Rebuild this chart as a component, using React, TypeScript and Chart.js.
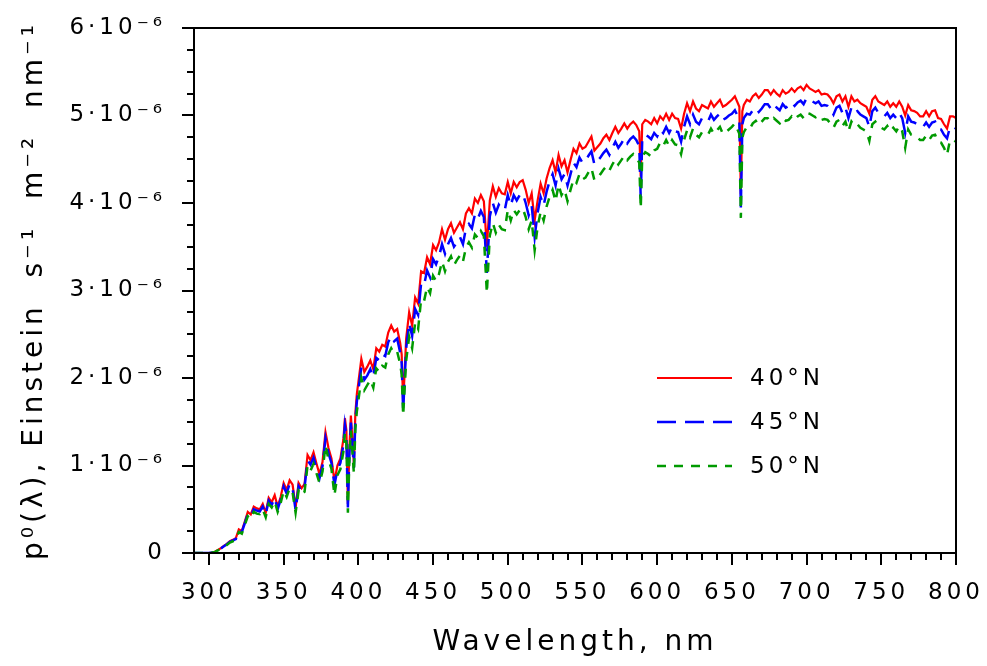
import { useEffect, useRef } from 'react';
import { Chart, registerables } from 'chart.js';

Chart.register(...registerables);

// Wavelength grid, nm
const WAVELENGTHS = [
  290, 292, 294, 296, 298, 300,
  302, 304, 306, 308, 310, 312, 314, 316, 318, 320,
  322, 324, 326, 328, 330, 332, 334, 336, 338, 340,
  342, 344, 346, 348, 350, 352, 354, 356, 358, 360,
  362, 364, 366, 368, 370, 372, 374, 376, 378, 380,
  382, 384, 386, 388,
  390, 391, 392, 393, 394, 395, 396, 397, 398, 399,
  400, 402, 404, 406, 408, 410, 412, 414, 416, 418, 420, 422, 424, 426, 428,
  429, 430,
  432, 434, 436, 438, 440, 442, 444, 446, 448, 450,
  452, 454, 456, 458, 460, 462, 464, 466, 468, 470,
  472, 474, 476, 478, 480, 482, 484, 486, 488, 490,
  492, 494, 496, 498,
  500, 502, 504, 506, 508, 510, 512, 514, 516, 518,
  520, 522, 524, 526, 528, 530, 532, 534, 536, 538,
  540, 542, 544, 546, 548, 550, 552, 554, 556, 558,
  560, 562, 564, 566, 568, 570, 572, 574, 576, 578,
  580, 582, 584, 586, 588,
  589,
  590, 592, 594, 596, 598,
  600, 602, 604, 606, 608, 610, 612, 614, 616, 618,
  620, 622, 624, 626, 628, 630, 632, 634, 636, 638,
  640, 642, 644, 646, 648, 650, 652, 654,
  655, 656, 657,
  658,
  660, 662, 664, 666, 668, 670, 672, 674, 676, 678,
  680, 682, 684, 686, 688, 690, 692, 694, 696, 698,
  700, 702, 704, 706, 708, 710, 712, 714, 716, 718,
  720, 722, 724, 726, 728, 730, 732, 734, 736, 738,
  740, 742, 744, 746, 748, 750, 752, 754, 756, 758,
  760, 762, 764, 766, 768, 770, 772, 774, 776, 778,
  780, 782, 784, 786, 788, 790, 792, 794, 796, 798,
  800,
];

// p0(lambda) in units of 1e-6 Einstein s^-1 m^-2 nm^-1
const LAT40 = [
  0, 0, 0, 0, 0, 0,
  0.005, 0.015, 0.035, 0.055, 0.08, 0.105, 0.135, 0.15, 0.17, 0.27,
  0.25, 0.36, 0.47, 0.44, 0.53, 0.51, 0.50, 0.56, 0.46, 0.63,
  0.58, 0.66, 0.53, 0.64, 0.80, 0.72, 0.83, 0.78, 0.52, 0.80,
  0.74, 0.79, 1.12, 1.06, 1.15, 1.02, 0.90, 1.04, 1.38, 1.20,
  1.08, 0.82, 1.00, 1.08,
  1.30, 1.54, 1.40, 0.56, 1.20, 1.57, 1.30, 1.02, 1.60, 1.82,
  1.95, 2.22, 2.07, 2.13, 2.20, 2.10, 2.34, 2.30, 2.38, 2.36, 2.52, 2.60, 2.53, 2.56, 2.40,
  2.27, 1.70,
  2.45, 2.75, 2.60, 2.92, 2.85, 3.22, 3.20, 3.38, 3.30, 3.52,
  3.46, 3.55, 3.70, 3.58, 3.70, 3.77, 3.66, 3.72, 3.78, 3.70,
  3.88, 3.94, 3.88, 4.05, 4.00, 4.09, 4.02, 3.50, 4.03, 4.19,
  4.07, 4.17, 4.11, 4.10,
  4.24, 4.11, 4.24, 4.18, 4.24, 4.26, 4.15, 4.00, 4.11, 3.80,
  4.03, 4.22, 4.11, 4.28, 4.40, 4.49, 4.35, 4.55, 4.42, 4.49,
  4.35, 4.49, 4.62, 4.57, 4.68, 4.62, 4.64, 4.70, 4.76, 4.60,
  4.64, 4.68, 4.74, 4.78, 4.72, 4.80, 4.87, 4.80, 4.85, 4.91,
  4.85, 4.90, 4.93, 4.89, 4.82,
  4.30,
  4.90, 4.95, 4.93, 4.90, 4.97,
  4.91, 4.99, 4.95, 5.02, 4.95, 5.02, 4.97, 4.96, 4.85, 5.02,
  5.14, 5.05, 5.16, 5.08, 5.05, 5.12, 5.10, 5.08, 5.16, 5.10,
  5.14, 5.18, 5.10, 5.12, 5.15, 5.18, 5.22, 5.14,
  5.10, 4.10, 5.05,
  5.12,
  5.18, 5.16, 5.22, 5.25, 5.20, 5.24, 5.29, 5.29, 5.24, 5.29,
  5.25, 5.22, 5.29, 5.25, 5.27, 5.31, 5.27, 5.31, 5.33, 5.29,
  5.35, 5.31, 5.29, 5.27, 5.29, 5.24, 5.25, 5.24, 5.20, 5.14,
  5.22, 5.24, 5.16, 5.22, 5.10, 5.22, 5.16, 5.18, 5.14, 5.12,
  5.10, 5.02, 5.18, 5.22, 5.16, 5.14, 5.12, 5.16, 5.10, 5.14,
  5.10, 5.16, 5.10, 5.00, 5.12, 5.06, 5.05, 5.03, 4.99, 4.99,
  5.05, 4.99, 5.05, 5.06, 4.97, 4.96, 4.90, 4.85, 4.99, 4.99,
  4.97,
];

const LAT45 = [
  0, 0, 0, 0, 0, 0,
  0.005, 0.014, 0.033, 0.052, 0.076, 0.10, 0.128, 0.143, 0.16, 0.255,
  0.24, 0.34, 0.445, 0.42, 0.50, 0.485, 0.475, 0.53, 0.44, 0.60,
  0.55, 0.63, 0.50, 0.61, 0.76, 0.68, 0.79, 0.74, 0.49, 0.76,
  0.70, 0.75, 1.06, 1.01, 1.09, 0.97, 0.855, 0.99, 1.31, 1.14,
  1.03, 0.78, 0.95, 1.03,
  1.24, 1.46, 1.33, 0.52, 1.14, 1.49, 1.24, 0.97, 1.52, 1.73,
  1.86, 2.12, 1.98, 2.03, 2.10, 2.01, 2.23, 2.20, 2.27, 2.25, 2.41, 2.48, 2.42, 2.45, 2.29,
  2.17, 1.63,
  2.34, 2.63, 2.48, 2.79, 2.72, 3.08, 3.06, 3.23, 3.15, 3.36,
  3.30, 3.39, 3.53, 3.42, 3.53, 3.60, 3.50, 3.55, 3.61, 3.53,
  3.71, 3.76, 3.71, 3.87, 3.82, 3.91, 3.84, 3.20, 3.85, 4.00,
  3.89, 3.98, 3.93, 3.92,
  4.09, 3.97, 4.09, 4.03, 4.09, 4.11, 4.00, 3.86, 3.97, 3.61,
  3.89, 4.07, 3.97, 4.13, 4.25, 4.33, 4.20, 4.39, 4.27, 4.33,
  4.20, 4.33, 4.46, 4.41, 4.52, 4.46, 4.48, 4.54, 4.59, 4.44,
  4.48, 4.52, 4.57, 4.61, 4.55, 4.63, 4.70, 4.63, 4.68, 4.74,
  4.68, 4.73, 4.76, 4.72, 4.65,
  4.05,
  4.73, 4.78, 4.76, 4.73, 4.80,
  4.76, 4.84, 4.80, 4.87, 4.80, 4.87, 4.82, 4.81, 4.70, 4.87,
  4.99, 4.90, 5.01, 4.93, 4.90, 4.97, 4.95, 4.93, 5.01, 4.95,
  4.99, 5.02, 4.95, 4.97, 5.00, 5.02, 5.06, 4.99,
  4.95, 3.95, 4.90,
  4.97,
  5.02, 5.01, 5.06, 5.09, 5.04, 5.08, 5.13, 5.13, 5.08, 5.13,
  5.09, 5.06, 5.13, 5.09, 5.11, 5.15, 5.11, 5.15, 5.17, 5.13,
  5.20, 5.18, 5.16, 5.14, 5.16, 5.11, 5.12, 5.11, 5.07, 5.01,
  5.09, 5.11, 5.03, 5.09, 4.97, 5.09, 5.03, 5.05, 5.01, 4.99,
  4.97, 4.87, 5.05, 5.09, 5.03, 5.01, 4.99, 5.03, 4.97, 5.01,
  4.97, 5.03, 4.97, 4.80, 4.99, 4.93, 4.92, 4.90, 4.87, 4.87,
  4.92, 4.87, 4.92, 4.93, 4.85, 4.84, 4.78, 4.74, 4.87, 4.87,
  4.85,
];

const LAT50 = [
  0, 0, 0, 0, 0, 0,
  0.004, 0.013, 0.031, 0.049, 0.071, 0.093, 0.12, 0.134, 0.15, 0.24,
  0.22, 0.32, 0.42, 0.39, 0.47, 0.45, 0.445, 0.50, 0.41, 0.56,
  0.52, 0.59, 0.47, 0.57, 0.71, 0.64, 0.74, 0.69, 0.46, 0.71,
  0.66, 0.70, 1.00, 0.94, 1.02, 0.91, 0.80, 0.93, 1.23, 1.07,
  0.96, 0.66, 0.89, 0.96,
  1.16, 1.37, 1.25, 0.46, 1.07, 1.40, 1.16, 0.91, 1.42, 1.62,
  1.74, 2.00, 1.86, 1.92, 1.98, 1.89, 2.11, 2.07, 2.14, 2.12, 2.27, 2.34, 2.28, 2.30, 2.16,
  2.04, 1.57,
  2.20, 2.47, 2.34, 2.63, 2.56, 2.90, 2.88, 3.04, 2.97, 3.17,
  3.11, 3.19, 3.33, 3.22, 3.33, 3.39, 3.29, 3.35, 3.40, 3.33,
  3.49, 3.55, 3.49, 3.64, 3.60, 3.68, 3.62, 2.97, 3.63, 3.77,
  3.66, 3.75, 3.70, 3.69,
  3.92, 3.80, 3.92, 3.87, 3.92, 3.94, 3.84, 3.70, 3.80, 3.46,
  3.73, 3.90, 3.80, 3.96, 4.07, 4.15, 4.02, 4.21, 4.09, 4.15,
  4.02, 4.15, 4.27, 4.23, 4.33, 4.27, 4.29, 4.35, 4.40, 4.26,
  4.29, 4.33, 4.38, 4.42, 4.37, 4.44, 4.50, 4.44, 4.49, 4.54,
  4.49, 4.53, 4.56, 4.52, 4.46,
  3.94,
  4.53, 4.58, 4.56, 4.53, 4.60,
  4.62, 4.69, 4.65, 4.72, 4.65, 4.72, 4.67, 4.66, 4.56, 4.72,
  4.83, 4.75, 4.85, 4.78, 4.75, 4.81, 4.79, 4.78, 4.85, 4.79,
  4.83, 4.87, 4.79, 4.81, 4.84, 4.87, 4.91, 4.83,
  4.79, 3.83, 4.75,
  4.81,
  4.87, 4.85, 4.91, 4.94, 4.89, 4.93, 4.97, 4.97, 4.93, 4.97,
  4.94, 4.91, 4.97, 4.94, 4.95, 4.99, 4.95, 4.99, 5.01, 4.97,
  5.03, 5.02, 5.00, 4.98, 5.00, 4.95, 4.96, 4.95, 4.91, 4.86,
  4.93, 4.95, 4.88, 4.93, 4.82, 4.93, 4.88, 4.90, 4.86, 4.84,
  4.82, 4.71, 4.90, 4.93, 4.88, 4.86, 4.84, 4.88, 4.82, 4.86,
  4.82, 4.88, 4.82, 4.63, 4.84, 4.78, 4.77, 4.75, 4.72, 4.72,
  4.77, 4.72, 4.77, 4.78, 4.70, 4.69, 4.63, 4.55, 4.72, 4.72,
  4.70,
];

const SERIES_LABELS = ['40°N', '45°N', '50°N'];
const X_MIN = 290;
const X_MAX = 800;
const X_STEP = 10;
const X_LABEL_EVERY = 50;
const Y_MIN = 0;
const Y_MAX = 6;
const Y_STEP = 0.25;
const X_TITLE = 'Wavelength, nm';
const Y_TITLE = 'p⁰(λ), Einstein  s⁻¹  m⁻²  nm⁻¹';

const FONT = "'DejaVu Sans', sans-serif";
const SPACING = '4px';

const setSpacing = (chart: any) => {
  chart.ctx.letterSpacing = SPACING;
};

const spacingPlugin = {
  id: 'letterSpacing',
  beforeInit: setSpacing,
  beforeUpdate: setSpacing,
  beforeLayout: setSpacing,
  beforeDraw: setSpacing,
};

const axesPlugin = {
  id: 'axesFrame',
  afterDraw(chart: any) {
    const { ctx, chartArea, scales } = chart;
    const { left, right, top, bottom } = chartArea;
    ctx.save();
    ctx.strokeStyle = '#000';
    ctx.lineWidth = 2;
    ctx.setLineDash([]);
    ctx.strokeRect(left, top, right - left, bottom - top);
    const xs = scales.x;
    xs.ticks.forEach((t: any) => {
      const v = Math.round(t.value);
      const px = Math.round(xs.getPixelForValue(t.value));
      const len = v % X_LABEL_EVERY === 0 ? 12 : 7;
      ctx.beginPath();
      ctx.moveTo(px, bottom);
      ctx.lineTo(px, bottom + len);
      ctx.stroke();
    });
    const ys = scales.y;
    ys.ticks.forEach((t: any) => {
      const py = Math.round(ys.getPixelForValue(t.value));
      const len = Number.isInteger(t.value) ? 12 : 7;
      ctx.beginPath();
      ctx.moveTo(left, py);
      ctx.lineTo(left - len, py);
      ctx.stroke();
    });
    ctx.restore();
  },
};

const legendPlugin = {
  id: 'insideLegend',
  afterDraw(chart: any) {
    const { ctx } = chart;
    ctx.save();
    ctx.letterSpacing = SPACING;
    ctx.font = `23px ${FONT}`;
    ctx.textBaseline = 'middle';
    ctx.textAlign = 'left';
    chart.data.datasets.forEach((ds: any, i: number) => {
      const y = 378 + i * 44;
      ctx.strokeStyle = ds.borderColor;
      ctx.lineWidth = ds.borderWidth;
      ctx.setLineDash(ds.borderDash || []);
      ctx.beginPath();
      ctx.moveTo(657, y);
      ctx.lineTo(732, y);
      ctx.stroke();
      ctx.setLineDash([]);
      ctx.fillStyle = '#000';
      ctx.fillText(ds.label, 750, y + 1);
    });
    ctx.restore();
  },
};

const toPoints = (ys: number[]) => WAVELENGTHS.map((x, i) => ({ x, y: ys[i] }));

export default function App() {
  const canvasRef = useRef<HTMLCanvasElement | null>(null);

  useEffect(() => {
    const canvas = canvasRef.current;
    if (!canvas) return;
    Chart.defaults.font.family = FONT;
    const chart = new Chart(canvas, {
      type: 'line',
      data: {
        datasets: [
          {
            label: SERIES_LABELS[0],
            data: toPoints(LAT40),
            borderColor: '#ff0000',
            borderWidth: 2.2,
            pointRadius: 0,
            tension: 0,
            order: 3,
          },
          {
            label: SERIES_LABELS[1],
            data: toPoints(LAT45),
            borderColor: '#0000ff',
            borderWidth: 2.5,
            borderDash: [19, 9],
            pointRadius: 0,
            tension: 0,
            order: 2,
          },
          {
            label: SERIES_LABELS[2],
            data: toPoints(LAT50),
            borderColor: '#009a00',
            borderWidth: 2.5,
            borderDash: [9, 8],
            pointRadius: 0,
            tension: 0,
            order: 1,
          },
        ],
      },
      options: {
        animation: false,
        responsive: false,
        events: [],
        layout: { padding: { top: 28, right: 31, bottom: 0, left: 0 } },
        plugins: {
          legend: { display: false },
          tooltip: { enabled: false },
        },
        scales: {
          x: {
            type: 'linear',
            min: X_MIN,
            max: X_MAX,
            ticks: {
              stepSize: X_STEP,
              autoSkip: false,
              maxRotation: 0,
              minRotation: 0,
              padding: 26,
              color: '#000',
              font: { family: FONT, size: 23 },
              callback: (v: any) => {
                const n = Math.round(Number(v));
                return n % X_LABEL_EVERY === 0 && n >= 300 ? String(n) : '';
              },
            },
            grid: { drawOnChartArea: false, drawTicks: false },
            border: { display: true, color: '#000', width: 2 },
            title: {
              display: true,
              text: X_TITLE,
              color: '#000',
              font: { family: FONT, size: 28 },
              padding: { top: 0, bottom: 6 },
            },
            afterFit: (s: any) => {
              s.height = 113;
              s.paddingLeft = 0;
              s.paddingRight = 0;
            },
          },
          y: {
            type: 'linear',
            min: Y_MIN,
            max: Y_MAX,
            ticks: {
              stepSize: Y_STEP,
              autoSkip: false,
              padding: 28,
              color: '#000',
              font: { family: FONT, size: 23 },
              callback: (v: any) => {
                const n = Number(v);
                if (!Number.isInteger(n)) return '';
                return n === 0 ? '0' : `${n}·10⁻⁶`;
              },
            },
            grid: { drawOnChartArea: false, drawTicks: false },
            border: { display: true, color: '#000', width: 2 },
            title: {
              display: true,
              text: Y_TITLE,
              color: '#000',
              font: { family: FONT, size: 28 },
              padding: { top: 18, bottom: 0 },
            },
            afterFit: (s: any) => {
              s.width = 194;
              s.paddingTop = 0;
              s.paddingBottom = 0;
            },
          },
        },
      },
      plugins: [spacingPlugin, axesPlugin, legendPlugin],
    } as any);
    return () => chart.destroy();
  }, []);

  return (
    <div style={{ position: 'absolute', left: 0, top: 0, width: 987, height: 666, background: '#fff' }}>
      <canvas ref={canvasRef} width={987} height={666} style={{ display: 'block' }} />
    </div>
  );
}
